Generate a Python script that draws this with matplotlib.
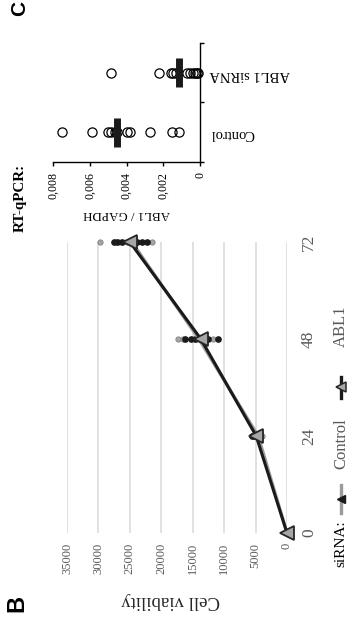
import matplotlib
matplotlib.use("Agg")
import matplotlib.pyplot as plt
from matplotlib.lines import Line2D

# ---- data ----
hours = [0, 24, 48, 72]
ctrl_mean = [0, 4600, 14000, 24700]
abl1_mean = [0, 4900, 13700, 25000]

# replicate wells per time point
ctrl_reps = {24: [4400, 4200, 3900],
             48: [17300, 16500, 14300, 13300, 11800],
             72: [29700, 26800, 25500, 24300, 21500]}
abl1_reps = {24: [5600, 5300, 5000, 4700],
             48: [16200, 15300, 14600, 12500, 10900],
             72: [27600, 27000, 26300, 23900, 23100, 22300]}
viab_ticks = [0, 5000, 10000, 15000, 20000, 25000, 30000, 35000]

# RT-qPCR, ABL1 / GAPDH
qpcr_groups = ["Control", "ABL1 siRNA"]
qpcr_ctrl = [0.00751, 0.00587, 0.00503, 0.00482, 0.00464, 0.00451,
             0.00396, 0.00382, 0.00273, 0.00155, 0.00115]
qpcr_abl1 = [0.00482, 0.00225, 0.00160, 0.00146, 0.00133, 0.00073,
             0.00055, 0.00040, 0.00027, 0.00018, 0.00012]
qpcr_median = [0.00454, 0.00115]
qpcr_ticks = [0, 0.002, 0.004, 0.006, 0.008]
qpcr_ticklabels = ["0", "0,002", "0,004", "0,006", "0,008"]

W, H = 355, 626
SERIF = "Liberation Serif"
GREY_TXT = "#595959"
GREY_LINE = "#9a9a9a"
GREY_MARK = "#a6a6a6"

plt.rcParams["font.family"] = SERIF

fig = plt.figure(figsize=(W / 100, H / 100), dpi=100)


def rect(left, top, right, bottom):
    # pixel box -> figure fraction
    return [left / W, 1 - bottom / H, (right - left) / W, (bottom - top) / H]


def ftext(x, y, s, **kw):
    kw.setdefault("ha", "center")
    kw.setdefault("va", "center")
    fig.text(x / W, 1 - y / H, s, **kw)


# ---------------- panel B: growth curve (page turned sideways) ----------------
axb = fig.add_axes(rect(67, 242, 287, 533))
axb.set_xlim(35000, 0)
axb.set_ylim(0, 72)
for s in axb.spines.values():
    s.set_visible(False)

axb.set_xticks(viab_ticks)
axb.set_xticklabels([str(v) for v in viab_ticks])
axb.grid(axis="x", color="#d9d9d9", lw=1.1)
axb.set_axisbelow(True)
axb.tick_params(axis="x", length=0, pad=7, labelrotation=90,
                labelsize=9, labelcolor=GREY_TXT)

axb.yaxis.tick_right()
axb.set_yticks(hours)
axb.tick_params(axis="y", length=0, pad=10, labelrotation=90,
                labelsize=12.5, labelcolor=GREY_TXT)
for lbl in axb.get_yticklabels():
    lbl.set_va("center")

for t, vals in ctrl_reps.items():
    axb.plot(vals, [t] * len(vals), "o", ms=3.8, color=GREY_MARK,
             mec="#808080", mew=0.6, clip_on=False, zorder=3)
for t, vals in abl1_reps.items():
    axb.plot(vals, [t] * len(vals), "o", ms=3.8, color="#1a1a1a",
             mec="#1a1a1a", clip_on=False, zorder=4)

axb.plot(ctrl_mean, hours, color=GREY_LINE, lw=2.4, marker="<", ms=6,
         mfc="#1a1a1a", mec="#1a1a1a", clip_on=False, zorder=5)
axb.plot(abl1_mean, hours, color="#1a1a1a", lw=2.2, marker="<", ms=9.5,
         mfc=GREY_MARK, mec="#262626", mew=1.3, clip_on=False, zorder=6)

ftext(171, 601, "Cell viability", rotation=180, fontsize=13.5, color="#262626")
ftext(17, 603, "B", rotation=90, fontsize=17, fontweight="bold",
      family="Liberation Sans")

# legend, drawn by hand so it can run along the page edge
ftext(341, 544, "siRNA:", rotation=90, fontsize=11)
fig.add_artist(Line2D([341 / W, 341 / W], [1 - 513 / H, 1 - 485 / H],
                      color=GREY_LINE, lw=2.4, transform=fig.transFigure))
fig.add_artist(Line2D([341 / W], [1 - 499 / H], marker="<", ms=6,
                      color="#1a1a1a", transform=fig.transFigure))
ftext(341, 444, "Control", rotation=90, fontsize=12, color=GREY_TXT)
fig.add_artist(Line2D([341 / W, 341 / W], [1 - 398 / H, 1 - 377 / H],
                      color="#1a1a1a", lw=2.4, transform=fig.transFigure))
fig.add_artist(Line2D([341 / W], [1 - 387 / H], marker="<", ms=7,
                      mfc=GREY_MARK, mec="#262626", mew=1.1,
                      transform=fig.transFigure))
ftext(341, 326, "ABL1", rotation=90, fontsize=12, color=GREY_TXT)

# ---------------- panel C: RT-qPCR dot plot ----------------
axc = fig.add_axes(rect(53, 43, 200, 162))
axc.set_xlim(0.008, 0)
axc.set_ylim(0.5, 2.5)
axc.spines["top"].set_visible(False)
axc.spines["left"].set_visible(False)
axc.spines["bottom"].set_linewidth(1)
axc.spines["right"].set_linewidth(1)

axc.set_xticks(qpcr_ticks)
axc.set_xticklabels(qpcr_ticklabels)
axc.tick_params(axis="x", direction="out", length=3, width=1, pad=4,
                labelrotation=90, labelsize=8.6)

axc.yaxis.tick_right()
axc.set_yticks([0.5, 1.5, 2.5])
axc.set_yticklabels([])
axc.set_yticks([1, 2], qpcr_groups, minor=True)
axc.tick_params(axis="y", which="major", direction="out", length=3, width=1)
axc.tick_params(axis="y", which="minor", length=0, pad=7,
                labelrotation=180, labelsize=10.5)

for pos, vals in zip([1, 2], [qpcr_ctrl, qpcr_abl1]):
    axc.plot(vals, [pos] * len(vals), "o", ms=6.6, mfc="none",
             mec="black", mew=0.9, clip_on=False)
for pos, med in zip([1, 2], qpcr_median):
    axc.plot([med, med], [pos - 0.245, pos + 0.245], color="#1a1a1a",
             lw=5, solid_capstyle="butt", zorder=5)

ftext(127, 214, "ABL1 / GAPDH", rotation=180, fontsize=9.3)
ftext(20, 198, "RT-qPCR:", rotation=90, fontsize=10.8, fontweight="bold")
ftext(20, 1, "C", rotation=90, fontsize=15, fontweight="bold",
      family="Liberation Sans", va="top")

fig.savefig("out.png", dpi=100)
